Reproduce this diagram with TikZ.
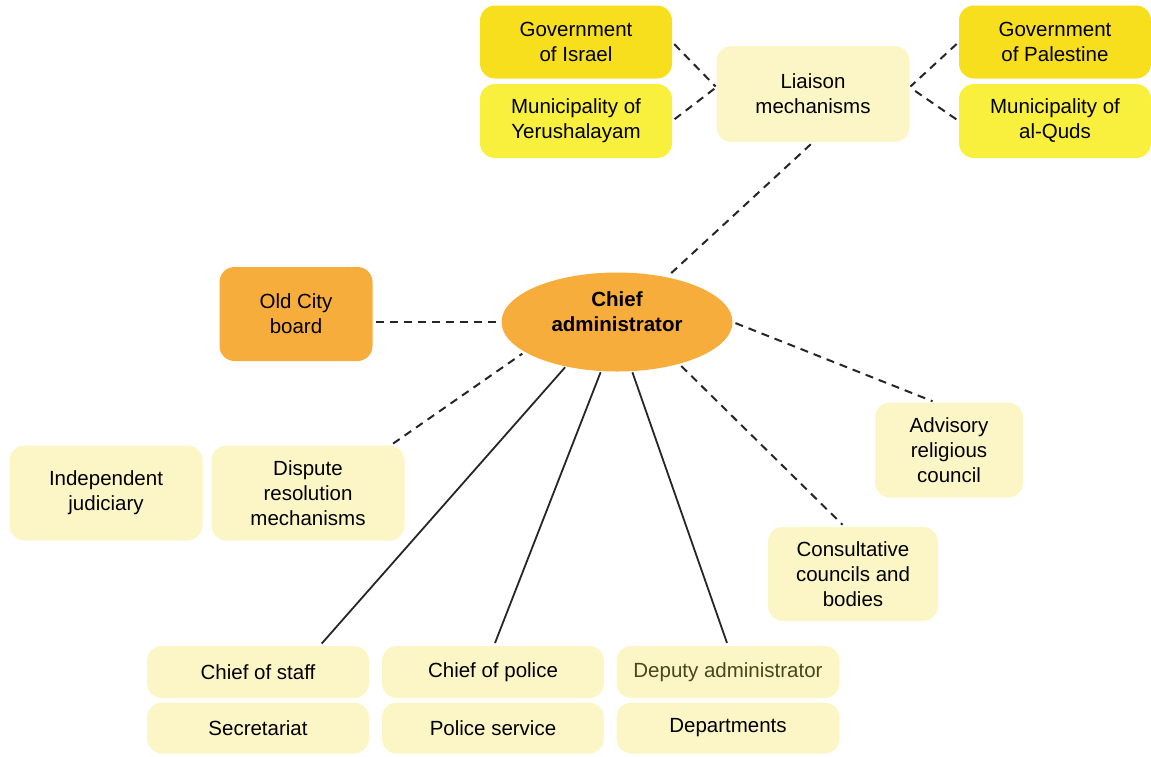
\documentclass[tikz,border=0pt]{standalone}
\usepackage{fontspec}
\setmainfont{Liberation Sans}
\usetikzlibrary{shapes.geometric}
\definecolor{gold}{HTML}{F8DF1E}
\definecolor{lemon}{HTML}{F8F03C}
\definecolor{pale}{HTML}{FCF6C6}
\definecolor{amber}{HTML}{F7AD3B}
\definecolor{olive}{HTML}{48461C}
\definecolor{ink}{HTML}{262626}
\tikzset{
  box/.style={rectangle, rounded corners=15pt, draw=none, fill=pale, align=center,
    font=\fontsize{20.5}{25}\selectfont, inner sep=0pt},
  link/.style={draw=ink, dash pattern=on 8pt off 6pt, line width=2pt, shorten <=3pt, shorten >=3pt},
  tie/.style={draw=ink, line width=1.8pt, shorten <=1pt, shorten >=3pt}
}

\begin{document}
\begin{tikzpicture}[x=1pt,y=-1pt]
\useasboundingbox (0,0) rectangle (1151,756);

% liaison group
\node[box, fill=gold, minimum width=192pt, minimum height=73pt] (gisr) at (576,42) {Government\\of Israel};
\node[box, fill=lemon, minimum width=192pt, minimum height=74pt] (myer) at (576,121) {Municipality of\\Yerushalayam};
\node[box, minimum width=193pt, minimum height=96pt] (liaison) at (813,94) {Liaison\\mechanisms};
\node[box, fill=gold, minimum width=192pt, minimum height=73pt] (gpal) at (1055,42) {Government\\of Palestine};
\node[box, fill=lemon, minimum width=192pt, minimum height=74pt] (mquds) at (1055,121) {Municipality of\\al-Quds};

% centre
\node[ellipse, fill=amber, minimum width=231pt, minimum height=99pt, inner sep=0pt, align=center,
  text depth=21pt, font=\fontsize{20.5}{25}\selectfont\bfseries] (chief) at (617,322) {Chief\\administrator};
\node[box, fill=amber, minimum width=153pt, minimum height=94pt] (board) at (296,314) {Old City\\board};

% councils and disputes
\node[box, minimum width=193pt, minimum height=95pt] (judic) at (106,493) {Independent\\judiciary};
\node[box, minimum width=193pt, minimum height=95pt] (disp) at (308,493) {Dispute\\resolution\\mechanisms};
\node[box, minimum width=148pt, minimum height=95pt] (relig) at (949,450) {Advisory\\religious\\council};
\node[box, minimum width=170pt, minimum height=94pt] (consult) at (853,574) {Consultative\\councils and\\bodies};

% bottom row
\node[box, minimum width=222pt, minimum height=52pt] (staff) at (258,672) {Chief of staff};
\node[box, minimum width=222pt, minimum height=51pt] (secr) at (258,728) {Secretariat};
\node[box, minimum width=222pt, minimum height=52pt] (police) at (493,672) {Chief of police};
\node[box, minimum width=222pt, minimum height=51pt] (polserv) at (493,728) {Police service};
\node[box, minimum width=223pt, minimum height=52pt, text=olive] (deputy) at (728,672) {Deputy administrator};
\node[box, minimum width=223pt, minimum height=51pt] (depts) at (728,728) {Departments};

% dashed links
\draw[link, shorten >=1pt] (gisr.east) -- (liaison.176);
\draw[link, shorten >=1pt] (myer.east) -- (liaison.176);
\draw[link, shorten >=1pt] (gpal.west) -- (liaison.4);
\draw[link, shorten >=1pt] (mquds.west) -- (liaison.4);
\draw[link] (liaison.south) -- (chief.42);
\draw[link] (board.east |- chief.west) -- (chief.west);
\draw[link] (disp.30) -- (chief.-162);
\draw[link] (chief.east) -- (relig.106);
\draw[link] (chief.-34) -- (consult.100);

% solid lines
\draw[tie] (chief.-139) -- (staff.23);
\draw[tie] (chief.-108) -- (police.88);
\draw[tie] (chief.-73) -- (deputy.north);
\end{tikzpicture}
\end{document}
